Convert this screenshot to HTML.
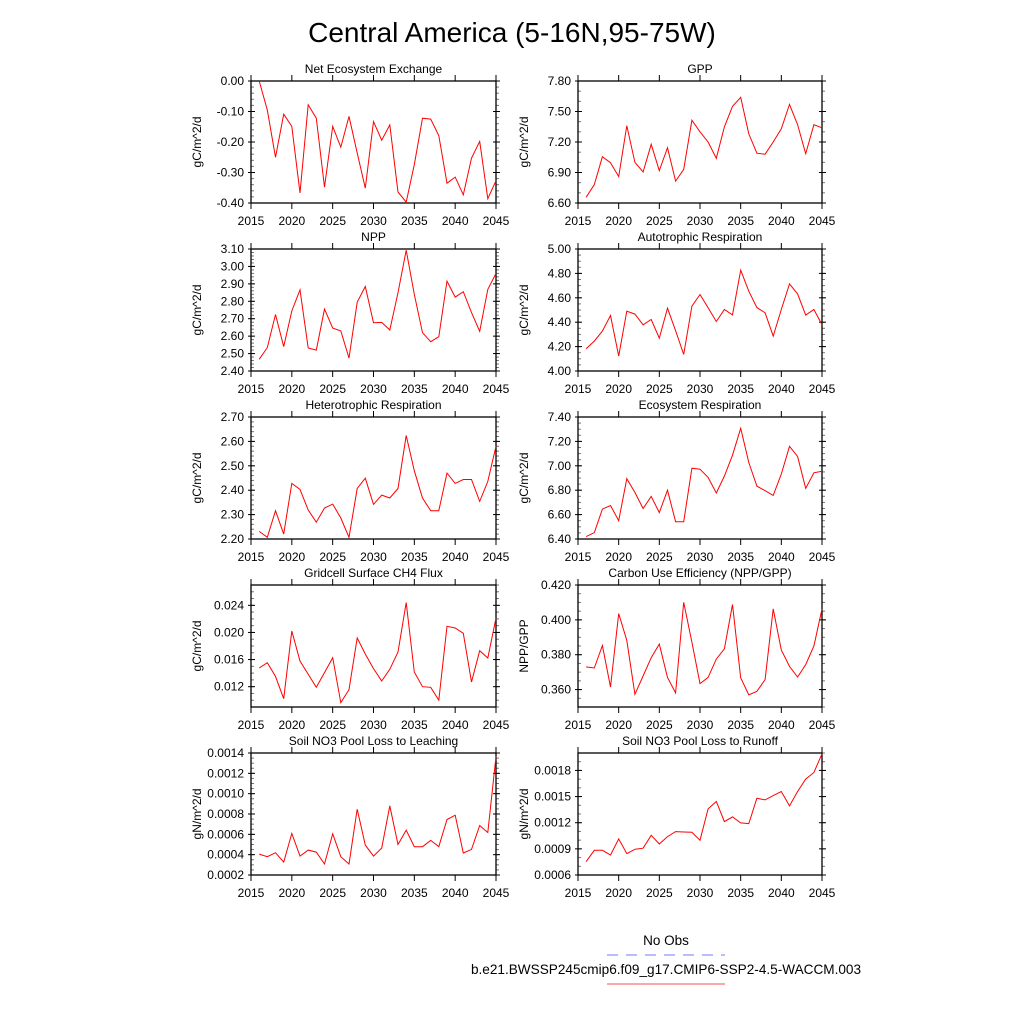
<!DOCTYPE html>
<html><head><meta charset="utf-8"><style>
html,body{margin:0;padding:0;background:#fff;width:1024px;height:1024px;overflow:hidden}
svg{display:block;font-family:"Liberation Sans",sans-serif}
</style></head><body>
<svg id="fig" width="1024" height="1024">
<text x="512" y="42" text-anchor="middle" font-size="28">Central America (5-16N,95-75W)</text>
<g>
<text x="666" y="945" text-anchor="middle" font-size="13.5">No Obs</text>
<line x1="607" y1="955" x2="725" y2="955" stroke="#6f7bff" stroke-width="1" stroke-dasharray="11,8"/>
<text x="666" y="974" text-anchor="middle" font-size="13.6">b.e21.BWSSP245cmip6.f09_g17.CMIP6-SSP2-4.5-WACCM.003</text>
<line x1="607" y1="984" x2="725" y2="984" stroke="#f05050" stroke-width="1"/>
</g>
</svg>
<script>
const years = [2016,2017,2018,2019,2020,2021,2022,2023,2024,2025,2026,2027,2028,2029,2030,2031,2032,2033,2034,2035,2036,2037,2038,2039,2040,2041,2042,2043,2044,2045];
const xTicks = [2015,2020,2025,2030,2035,2040,2045];
const neeValues = [0.00,-0.095,-0.25,-0.109,-0.149,-0.367,-0.078,-0.122,-0.348,-0.149,-0.217,-0.116,-0.236,-0.351,-0.133,-0.194,-0.144,-0.364,-0.397,-0.274,-0.122,-0.125,-0.179,-0.335,-0.315,-0.373,-0.253,-0.198,-0.386,-0.327];
const gppValues = [6.656,6.78,7.055,6.996,6.86,7.36,7.0,6.905,7.177,6.918,7.144,6.815,6.93,7.414,7.30,7.2,7.04,7.35,7.55,7.64,7.28,7.09,7.08,7.2,7.33,7.57,7.37,7.085,7.37,7.34];
const nppValues = [2.467,2.534,2.724,2.54,2.744,2.866,2.532,2.52,2.755,2.646,2.63,2.474,2.795,2.885,2.677,2.679,2.635,2.849,3.093,2.84,2.62,2.568,2.597,2.916,2.824,2.855,2.735,2.628,2.868,2.96];
const arValues = [4.183,4.245,4.327,4.455,4.123,4.49,4.466,4.379,4.422,4.27,4.515,4.33,4.136,4.531,4.627,4.518,4.406,4.504,4.46,4.826,4.654,4.52,4.477,4.286,4.504,4.714,4.632,4.458,4.504,4.38];
const hrValues = [2.231,2.207,2.316,2.22,2.428,2.403,2.319,2.269,2.327,2.343,2.286,2.207,2.407,2.449,2.342,2.38,2.368,2.407,2.624,2.48,2.368,2.316,2.316,2.47,2.428,2.444,2.444,2.354,2.436,2.58];
const erValues = [6.42,6.452,6.645,6.675,6.55,6.894,6.782,6.65,6.749,6.616,6.80,6.542,6.542,6.98,6.972,6.905,6.777,6.916,7.087,7.307,7.027,6.834,6.796,6.757,6.932,7.16,7.076,6.815,6.943,6.956];
const ch4Values = [0.01475,0.01554,0.01352,0.01023,0.02021,0.01579,0.01382,0.0119,0.01407,0.01628,0.00964,0.01156,0.01918,0.01682,0.01466,0.01284,0.01456,0.01712,0.0244,0.01416,0.012,0.0119,0.0100,0.0209,0.02066,0.01987,0.01269,0.01731,0.01623,0.02213];
const cueValues = [0.373,0.3724,0.3853,0.3615,0.4036,0.3882,0.3573,0.3678,0.3783,0.3861,0.3669,0.3581,0.4101,0.3872,0.3634,0.367,0.3775,0.3834,0.4088,0.3667,0.357,0.359,0.3657,0.4063,0.3827,0.3733,0.3672,0.3743,0.385,0.4063];
const leachValues = [0.000406,0.00038,0.000419,0.000327,0.000608,0.000386,0.000445,0.000425,0.000308,0.000605,0.00038,0.000308,0.000847,0.000494,0.000386,0.000465,0.00088,0.0005,0.000641,0.000478,0.000478,0.00054,0.000478,0.000746,0.000788,0.000416,0.000452,0.000687,0.000618,0.001367];
const runoffValues = [0.000753,0.000884,0.000884,0.00083,0.001014,0.000845,0.000895,0.000907,0.001056,0.000956,0.001041,0.001098,0.001094,0.00109,0.000998,0.001359,0.001443,0.001213,0.001267,0.001198,0.00119,0.001481,0.001462,0.001511,0.001558,0.001393,0.001558,0.0017,0.001776,0.001991];
const neeTicks = [-0.40,-0.30,-0.20,-0.10,0.00];
const gppTicks = [6.60,6.90,7.20,7.50,7.80];
const nppTicks = [2.40,2.50,2.60,2.70,2.80,2.90,3.00,3.10];
const arTicks = [4.00,4.20,4.40,4.60,4.80,5.00];
const hrTicks = [2.20,2.30,2.40,2.50,2.60,2.70];
const erTicks = [6.40,6.60,6.80,7.00,7.20,7.40];
const ch4Ticks = [0.012,0.016,0.020,0.024];
const cueTicks = [0.360,0.380,0.400,0.420];
const leachTicks = [0.0002,0.0004,0.0006,0.0008,0.0010,0.0012,0.0014];
const runoffTicks = [0.0006,0.0009,0.0012,0.0015,0.0018];

const panels = [
 {name:'nee',title:'Net Ecosystem Exchange',yl:'gC/m^2/d',v:neeValues,t:neeTicks,min:-0.40,max:0.00,d:2,minor:5},
 {name:'gpp',title:'GPP',yl:'gC/m^2/d',v:gppValues,t:gppTicks,min:6.60,max:7.80,d:2,minor:3},
 {name:'npp',title:'NPP',yl:'gC/m^2/d',v:nppValues,t:nppTicks,min:2.40,max:3.10,d:2,minor:5},
 {name:'autotrophic-respiration',title:'Autotrophic Respiration',yl:'gC/m^2/d',v:arValues,t:arTicks,min:4.00,max:5.00,d:2,minor:4},
 {name:'heterotrophic-respiration',title:'Heterotrophic Respiration',yl:'gC/m^2/d',v:hrValues,t:hrTicks,min:2.20,max:2.70,d:2,minor:5},
 {name:'ecosystem-respiration',title:'Ecosystem Respiration',yl:'gC/m^2/d',v:erValues,t:erTicks,min:6.40,max:7.40,d:2,minor:4},
 {name:'ch4-flux',title:'Gridcell Surface CH4 Flux',yl:'gC/m^2/d',v:ch4Values,t:ch4Ticks,min:0.009,max:0.027,d:3,minor:4},
 {name:'carbon-use-efficiency',title:'Carbon Use Efficiency (NPP/GPP)',yl:'NPP/GPP',v:cueValues,t:cueTicks,min:0.35,max:0.42,d:3,minor:4},
 {name:'no3-leaching',title:'Soil NO3 Pool Loss to Leaching',yl:'gN/m^2/d',v:leachValues,t:leachTicks,min:0.0002,max:0.0014,d:4,minor:4},
 {name:'no3-runoff',title:'Soil NO3 Pool Loss to Runoff',yl:'gN/m^2/d',v:runoffValues,t:runoffTicks,min:0.0006,max:0.0020,d:4,minor:3}
];
const NS='http://www.w3.org/2000/svg';
const svg=document.getElementById('fig');
function mk(tag,attrs,parent){const e=document.createElementNS(NS,tag);for(const k in attrs)e.setAttribute(k,attrs[k]);parent.appendChild(e);return e;}
panels.forEach((p,i)=>{
 const col=i%2,row=Math.floor(i/2);
 const L=col?578:251,R=col?822:496,T=81+row*168,B=T+122;
 const g=mk('g',{},svg);
 
 
 const xs=y=>L+(y-2015)/30*(R-L);
 const ys=v=>B-(v-p.min)/(p.max-p.min)*(B-T);
 const tt=mk('text',{x:(L+R)/2,y:T-8,'text-anchor':'middle','font-size':12},g);
 tt.textContent=p.title;
 
 
 const yl=mk('text',{x:0,y:0,transform:`translate(${L-50},${(T+B)/2}) rotate(-90)`,'text-anchor':'middle','font-size':12},g);
 yl.textContent=p.yl;
 
 
 xTicks.forEach((xv,k)=>{
  const x=xs(xv);
  mk('line',{x1:x,x2:x,y1:B,y2:B+6,stroke:'#000'},g);
  mk('line',{x1:x,x2:x,y1:T,y2:T-6,stroke:'#000'},g);
  const lb=mk('text',{x:x,y:B+22,'text-anchor':'middle','font-size':12},g);
  lb.textContent=xv;
  
  
 });
 const step=p.t.length>1?p.t[1]-p.t[0]:1;
 const start=p.t[0]-step;
 for(let v=start;v<=p.max+1e-12;v+=step/p.minor){
  if(v<p.min-1e-12)continue;
  const y=ys(v);
  mk('line',{x1:L,x2:L+3,y1:y,y2:y,stroke:'#777'},g);
  mk('line',{x1:R,x2:R+3,y1:y,y2:y,stroke:'#777'},g);
 }
 p.t.forEach(v=>{
  const y=ys(v);
  mk('line',{x1:L-3,x2:L+4,y1:y,y2:y,stroke:'#000'},g);
  mk('line',{x1:R-3,x2:R+4,y1:y,y2:y,stroke:'#000'},g);
  const lb=mk('text',{x:L-7,y:y+4,'text-anchor':'end','font-size':12},g);
  lb.textContent=v.toFixed(p.d);
  
  
 });
 const fr=mk('rect',{x:L,y:T,width:R-L,height:B-T,fill:'none',stroke:'#000','stroke-width':1.3},g);
 
 
 const pts=p.v.map((v,k)=>xs(years[k]).toFixed(1)+','+ys(v).toFixed(1)).join(' ');
 const ln=mk('polyline',{points:pts,fill:'none',stroke:'#ff0000','stroke-width':1},g);
 
 
});
</script>
</body></html>
